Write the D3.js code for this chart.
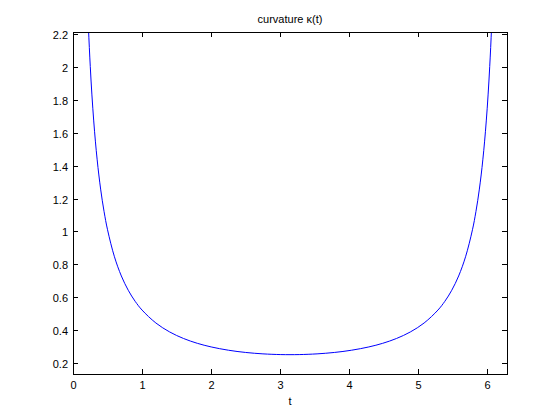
<!DOCTYPE html>
<html><head><meta charset="utf-8">
<script src="https://cdn.jsdelivr.net/npm/d3@7"></script>
<style>body{margin:0;background:#fff}svg{display:block}text{font-family:"Liberation Sans",Arial,sans-serif;fill:#000}</style>
</head><body>
<script>
const tValues = [0.15,0.2,0.25,0.3,0.35,0.4,0.45,0.5,0.6,0.7,0.8,0.9,1.0,1.2,1.4,1.6,1.8,2.0,2.25,2.5,2.75,3.0,3.1416,3.2832,3.5332,3.7832,4.0332,4.2832,4.4832,4.6832,4.8832,5.0832,5.2832,5.3832,5.4832,5.5832,5.6832,5.7832,5.8332,5.8832,5.9332,5.9832,6.0332,6.0832,6.1332];
const kappaValues = [3.336,2.504,2.005,1.673,1.436,1.258,1.1205,1.0105,0.846,0.7291,0.642,0.5747,0.5215,0.4428,0.3881,0.3485,0.3191,0.2971,0.2771,0.2634,0.2549,0.2506,0.25,0.2506,0.2549,0.2634,0.2771,0.2971,0.3191,0.3485,0.3881,0.4428,0.5215,0.5747,0.642,0.7291,0.846,1.0105,1.1205,1.258,1.436,1.673,2.005,2.504,3.336];
const xTicks = [0,1,2,3,4,5,6];
const yTicks = [0.2,0.4,0.6,0.8,1,1.2,1.4,1.6,1.8,2,2.2];
const titleText = "curvature \u03ba(t)";
const xLabel = "t";

const W=560,H=420;
const L=73,R=507,T=32,B=374;
const x=d3.scaleLinear().domain([0,2*Math.PI]).range([L,R]);
const y=d3.scaleLinear().domain([0.1323,2.2144]).range([B,T]);
const svg=d3.select("body").append("svg").attr("width",W).attr("height",H);
svg.append("rect").attr("width",W).attr("height",H).attr("fill","#fff");
svg.append("defs").append("clipPath").attr("id","c").append("rect").attr("x",L).attr("y",T).attr("width",R-L).attr("height",B-T);

const data=tValues.map((t,i)=>[t,kappaValues[i]]);
svg.append("path").datum(data).attr("clip-path","url(#c)")
  .attr("fill","none").attr("stroke","#0000ff").attr("stroke-width",1)
  .attr("d",d3.line().x(d=>x(d[0])).y(d=>y(d[1])).curve(d3.curveCatmullRom.alpha(0.5)));

const tl=5;
const g=svg.append("g").attr("stroke","#000").attr("stroke-width",1).attr("shape-rendering","crispEdges");
xTicks.forEach(v=>{const px=Math.round(x(v))+0.5;
  g.append("line").attr("x1",px).attr("x2",px).attr("y1",B).attr("y2",B-tl);
  g.append("line").attr("x1",px).attr("x2",px).attr("y1",T).attr("y2",T+tl);
  svg.append("text").attr("x",px).attr("y",389).attr("text-anchor","middle").attr("font-size",11).text(v);
});
yTicks.forEach(v=>{const py=Math.round(y(v))+0.5;
  g.append("line").attr("x1",L).attr("x2",L+tl).attr("y1",py).attr("y2",py);
  g.append("line").attr("x1",R).attr("x2",R-tl).attr("y1",py).attr("y2",py);
  svg.append("text").attr("x",68).attr("y",py+4).attr("text-anchor","end").attr("font-size",11).text(d3.format("~g")(v));
});
g.append("rect").attr("x",L+0.5).attr("y",T+0.5).attr("width",R-L).attr("height",B-T).attr("fill","none");
svg.append("text").attr("x",(L+R)/2).attr("y",23).attr("text-anchor","middle").attr("font-size",11).text(titleText);
svg.append("text").attr("x",(L+R)/2).attr("y",405).attr("text-anchor","middle").attr("font-size",11).text(xLabel);
</script>
</body></html>
